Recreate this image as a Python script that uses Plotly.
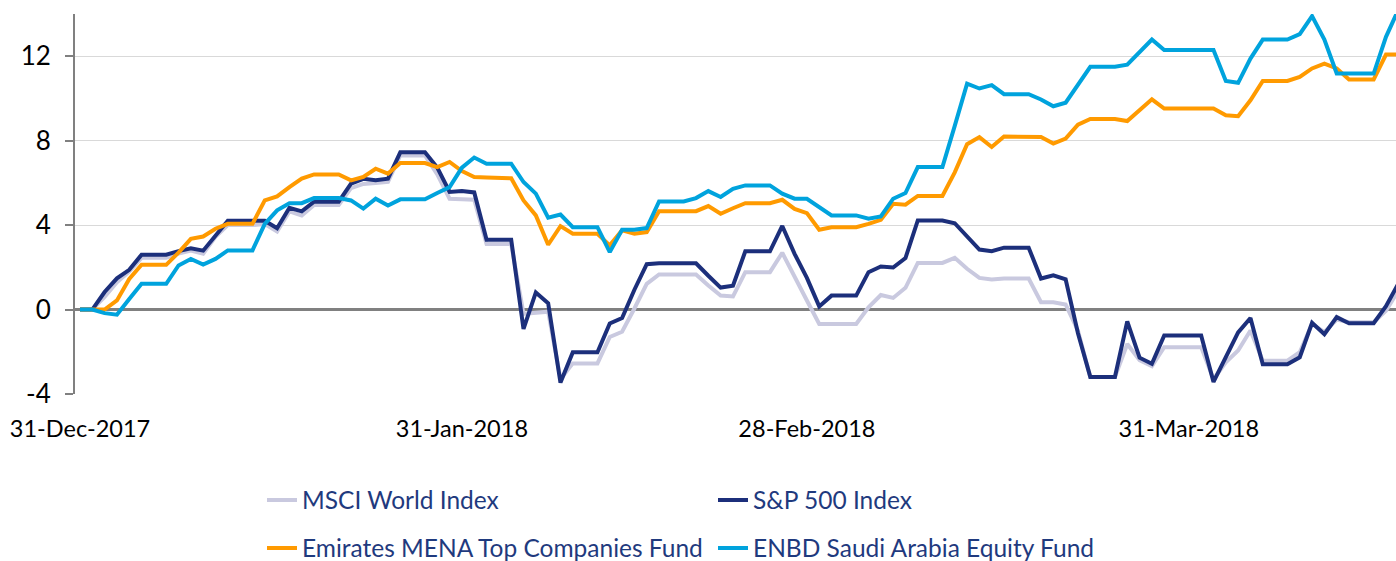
import pandas as pd
import plotly.graph_objects as go

start_date = "2017-12-31"

msci_world = [0, 0, 0.6, 1.3, 1.8, 2.45, 2.45, 2.45, 2.65, 2.8, 2.65, 3.45, 4.0, 4.0, 4.0, 4.05, 3.7,
              4.65, 4.45, 4.95, 4.95, 4.95, 5.75, 5.95, 6.0, 6.05, 7.3, 7.3, 7.3, 6.4, 5.25, 5.22,
              5.2, 3.1, 3.1, 3.1, -0.2, -0.15, -0.1, -3.3, -2.55, -2.55, -2.55, -1.3, -1.05, 0.05,
              1.22, 1.66, 1.66, 1.66, 1.66, 1.14, 0.66, 0.62, 1.77, 1.77, 1.77, 2.69, 1.53, 0.43,
              -0.68, -0.68, -0.68, -0.68, 0.11, 0.69, 0.55, 1.03, 2.21, 2.21, 2.21, 2.45, 1.93, 1.5,
              1.42, 1.47, 1.47, 1.47, 0.35, 0.35, 0.24, -1.0, -3.2, -3.2, -3.2, -1.63, -2.4, -2.68,
              -1.78, -1.78, -1.78, -1.78, -3.3, -2.5, -1.94, -0.99, -2.42, -2.42, -2.42, -2.02,
              -0.68, -1.07, -0.47, -0.6, -0.6, -0.6, -0.05, 0.9]

sp500 = [0, 0, 0.83, 1.48, 1.88, 2.60, 2.60, 2.60, 2.77, 2.90, 2.79, 3.51, 4.21, 4.21, 4.21, 4.21,
         3.85, 4.82, 4.65, 5.11, 5.11, 5.11, 5.96, 6.19, 6.13, 6.20, 7.45, 7.45, 7.45, 6.73, 5.57,
         5.62, 5.55, 3.31, 3.31, 3.31, -0.92, 0.81, 0.30, -3.46, -2.02, -2.02, -2.02, -0.66, -0.40,
         0.94, 2.15, 2.19, 2.19, 2.19, 2.19, 1.60, 1.04, 1.13, 2.76, 2.76, 2.76, 3.96, 2.64, 1.50,
         0.15, 0.66, 0.66, 0.66, 1.77, 2.04, 1.99, 2.44, 4.22, 4.22, 4.22, 4.09, 3.43, 2.84, 2.76,
         2.93, 2.93, 2.93, 1.47, 1.62, 1.43, -1.12, -3.19, -3.19, -3.19, -0.56, -2.28, -2.57,
         -1.23, -1.23, -1.23, -1.23, -3.43, -2.21, -1.08, -0.40, -2.59, -2.59, -2.59, -2.26,
         -0.63, -1.17, -0.36, -0.65, -0.65, -0.65, 0.16, 1.23]

emirates_mena = [0, 0, 0, 0.43, 1.45, 2.12, 2.12, 2.12, 2.7, 3.35, 3.46, 3.83, 4.06, 4.06, 4.06,
                 5.17, 5.36, 5.8, 6.2, 6.4, 6.4, 6.4, 6.12, 6.28, 6.67, 6.44, 6.94, 6.94, 6.94,
                 6.75, 6.99, 6.56, 6.28, 6.26, 6.26, 6.22, 5.17, 4.46, 3.07, 3.95, 3.59, 3.59,
                 3.59, 3.04, 3.75, 3.59, 3.67, 4.66, 4.66, 4.66, 4.66, 4.9, 4.54, 4.8, 5.04, 5.04,
                 5.04, 5.2, 4.77, 4.57, 3.78, 3.9, 3.9, 3.9, 4.06, 4.25, 5.01, 4.97, 5.38, 5.38,
                 5.38, 6.5, 7.83, 8.17, 7.7, 8.2, 8.2, 8.2, 8.17, 7.86, 8.1, 8.76, 9.03, 9.03, 9.03,
                 8.93, 9.44, 9.96, 9.52, 9.52, 9.52, 9.52, 9.52, 9.2, 9.16, 9.91, 10.83, 10.83,
                 10.83, 11.02, 11.42, 11.65, 11.42, 10.9, 10.9, 10.9, 12.08, 12.08]

enbd_saudi = [0, 0, -0.17, -0.24, 0.5, 1.22, 1.22, 1.22, 2.09, 2.4, 2.13, 2.4, 2.8, 2.8, 2.8, 4.06,
              4.7, 5.04, 5.04, 5.28, 5.28, 5.28, 5.17, 4.78, 5.25, 4.93, 5.22, 5.22, 5.22, 5.52, 5.8,
              6.72, 7.2, 6.91, 6.91, 6.91, 6.04, 5.49, 4.35, 4.5, 3.9, 3.9, 3.9, 2.72, 3.78, 3.78,
              3.86, 5.12, 5.12, 5.12, 5.28, 5.61, 5.33, 5.72, 5.88, 5.88, 5.88, 5.49, 5.25, 5.25,
              4.85, 4.46, 4.46, 4.46, 4.3, 4.41, 5.25, 5.52, 6.75, 6.75, 6.75, 8.7, 10.7, 10.47,
              10.63, 10.2, 10.2, 10.2, 9.95, 9.63, 9.8, 10.63, 11.5, 11.5, 11.5, 11.6, 12.2, 12.79,
              12.29, 12.29, 12.29, 12.29, 12.29, 10.83, 10.74, 11.89, 12.79, 12.79, 12.79, 13.05,
              13.9, 12.79, 11.18, 11.18, 11.18, 11.18, 12.92, 14.2]

series_names = ["MSCI World Index", "S&P 500 Index",
                "Emirates MENA Top Companies Fund", "ENBD Saudi Arabia Equity Fund"]
series_values = [msci_world, sp500, emirates_mena, enbd_saudi]
series_colors = ["#C9C9DF", "#1C2F7B", "#FF9A00", "#00A3DD"]

x_tick_vals = ["2017-12-31", "2018-01-31", "2018-02-28", "2018-03-31"]
x_tick_text = ["31-Dec-2017", "31-Jan-2018", "28-Feb-2018", "31-Mar-2018"]
y_tick_vals = [-4, 0, 4, 8, 12]
y_tick_text = ["-4", "0", "4", "8", "12"]

dates = pd.date_range(start_date, periods=len(sp500), freq="D")

W, H = 1396, 561
FONT = "Lato, 'Open Sans', sans-serif"
LEGEND_COLOR = "#1F3A7E"

fig = go.Figure()
legend_ids = ["legend", "legend2", "legend3", "legend4"]
for name, vals, col, lid in zip(series_names, series_values, series_colors, legend_ids):
    fig.add_trace(go.Scatter(x=dates, y=vals, mode="lines", name=name,
                             line=dict(color=col, width=4), legend=lid,
                             hoverinfo="x+y+name"))

# legend placement (pixel positions in the container)
leg_pos = [(262, 500), (713, 500), (262, 548), (713, 548)]
legend_cfg = {}
for lid, (px, py) in zip(legend_ids, leg_pos):
    legend_cfg[lid] = dict(x=px / W, y=1 - py / H, xref="container", yref="container",
                           xanchor="left", yanchor="middle", orientation="h",
                           bgcolor="rgba(0,0,0,0)",
                           font=dict(family=FONT, size=24.5, color=LEGEND_COLOR))

fig.update_layout(
    width=W, height=H,
    margin=dict(l=75, r=0, t=14, b=167, autoexpand=False),
    plot_bgcolor="white", paper_bgcolor="white",
    font=dict(family=FONT, color="#000000"),
    showlegend=True,
    **legend_cfg,
)
fig.update_xaxes(type="date", range=["2017-12-30 14:20", "2018-04-16 19:30"],
                 tickvals=x_tick_vals, ticktext=x_tick_text, showgrid=False,
                 showline=False, zeroline=False, ticks="",
                 tickfont=dict(family=FONT, size=23.5, color="#000000"),
                 ticklabelstandoff=18)
fig.update_yaxes(range=[-4, 14], tickvals=y_tick_vals, ticktext=y_tick_text, showgrid=True,
                 gridcolor="#D9D9D9", gridwidth=1,
                 zeroline=True, zerolinecolor="#808080", zerolinewidth=3,
                 showline=True, linecolor="#808080", linewidth=2,
                 ticks="outside", ticklen=8, tickcolor="#808080", tickwidth=2,
                 tickfont=dict(family=FONT, size=26, color="#000000"),
                 ticklabelstandoff=9)

fig.write_html("out.html", config={"displayModeBar": False},
               post_script="document.body.style.margin='0px';")
